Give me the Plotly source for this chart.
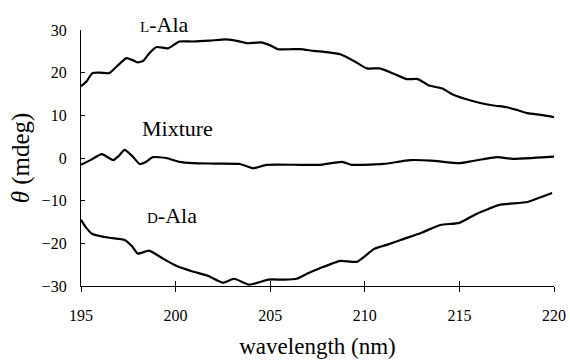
import plotly.graph_objects as go

l_wl = [195.0, 195.3, 195.6, 196.0, 196.5, 196.9, 197.4, 197.7, 198.0, 198.3, 198.6, 199.0, 199.6, 200.2,
        200.9, 201.8, 202.7, 203.3, 203.8, 204.5, 205.0, 205.4, 206.2, 206.6, 207.3, 208.0, 208.7, 209.4,
        210.1, 210.8, 211.5, 212.2, 212.8, 213.4, 214.1, 214.6, 215.2, 216.1, 216.8, 217.5, 218.0, 218.6,
        219.3, 220.0]
l_theta = [16.8, 18.0, 19.9, 20.0, 19.9, 21.5, 23.4, 23.0, 22.4, 22.8, 24.5, 26.0, 25.7, 27.3,
           27.3, 27.5, 27.8, 27.4, 26.9, 27.1, 26.4, 25.5, 25.5, 25.5, 25.1, 24.8, 24.3, 22.8,
           21.0, 21.0, 19.8, 18.5, 18.5, 17.0, 16.3, 15.0, 14.0, 12.9, 12.3, 11.9, 11.3, 10.5,
           10.1, 9.6]

m_wl = [195.0, 195.5, 196.1, 196.7, 197.0, 197.3, 197.7, 198.1, 198.4, 198.8, 199.5, 200.2, 200.9, 202.0,
        203.4, 204.1, 204.8, 206.6, 207.6, 208.8, 209.3, 209.9, 211.0, 212.4, 213.5, 215.0, 215.7, 217.0,
        217.8, 219.6, 220.0]
m_theta = [-1.6, -0.5, 0.9, -0.5, 0.5, 1.9, 0.5, -1.4, -1.0, 0.2, 0.0, -0.9, -1.2, -1.3,
           -1.4, -2.4, -1.6, -1.6, -1.6, -0.9, -1.6, -1.6, -1.4, -0.5, -0.6, -1.2, -0.7, 0.2,
           -0.2, 0.2, 0.3]

d_wl = [195.0, 195.3, 195.6, 196.5, 197.3, 197.7, 198.0, 198.6, 199.3, 200.0, 200.9, 201.7, 202.5, 203.1,
        203.9, 204.9, 205.7, 206.4, 207.0, 207.6, 208.7, 209.6, 210.5, 211.2, 211.9, 213.0, 214.0, 215.0,
        215.9, 216.5, 217.1, 218.6, 219.3, 219.9]
d_theta = [-14.5, -16.5, -17.8, -18.7, -19.2, -20.7, -22.4, -21.7, -23.5, -25.2, -26.6, -27.6, -29.2, -28.3,
           -29.7, -28.5, -28.5, -28.3, -27.0, -25.9, -24.1, -24.3, -21.3, -20.3, -19.2, -17.5, -15.7, -15.2,
           -13.1, -12.0, -11.0, -10.3, -9.2, -8.2]

x_ticks = [195, 200, 205, 210, 215, 220]
y_ticks = [-30, -20, -10, 0, 10, 20, 30]
y_range = [-30, 30]

labels = ["<span style='font-size:15px'>L</span>-Ala", "Mixture", "<span style='font-size:15px'>D</span>-Ala"]
label_x = [199.4, 200.1, 199.8]
label_y = [31.3, 6.8, -13.5]

FONT = "Liberation Serif, Times New Roman, serif"
fig = go.Figure()
for wl, th in [(l_wl, l_theta), (m_wl, m_theta), (d_wl, d_theta)]:
    fig.add_trace(go.Scatter(x=wl, y=th, mode="lines",
                             line=dict(color="black", width=2.2, shape="spline", smoothing=0.5),
                             showlegend=False, hoverinfo="skip"))
# invisible trace on overlay axis to give crossing x ticks
fig.add_trace(go.Scatter(x=[x_ticks[0], x_ticks[-1]], y=[0, 0], xaxis="x2", mode="lines",
                         line=dict(width=0), showlegend=False, hoverinfo="skip"))

for t, x, y in zip(labels, label_x, label_y):
    fig.add_annotation(x=x, xref="x", y=(y - y_range[0]) / (y_range[1] - y_range[0]), yref="y domain",
                       xanchor="center", yanchor="middle",
                       text=t, showarrow=False, font=dict(family=FONT, size=22, color="black"))

tick_font = dict(family=FONT, size=16, color="black")
fig.update_layout(
    width=570, height=361, margin=dict(l=81, r=16, t=30, b=75),
    plot_bgcolor="white", paper_bgcolor="white",
    font=dict(family=FONT, color="black"),
    xaxis=dict(range=[195, 220], tickvals=x_ticks, ticks="outside", ticklen=5, tickwidth=1.3,
               tickcolor="black", showline=True, linecolor="black", linewidth=1.3, showgrid=False,
               zeroline=False, tickfont=tick_font, ticklabelstandoff=10, automargin=False,
               title=dict(text="wavelength (nm)", font=dict(family=FONT, size=23), standoff=14)),
    xaxis2=dict(range=[195, 220], overlaying="x", tickvals=x_ticks, ticks="inside", ticklen=5,
                tickwidth=1.3, tickcolor="black", showticklabels=False, showgrid=False, zeroline=False,
                side="bottom", anchor="y", automargin=False),
    yaxis=dict(range=y_range, tickvals=y_ticks, ticks="inside", ticklen=4, tickwidth=1.3,
               tickcolor="black", showline=True, linecolor="black", linewidth=1.3, showgrid=False,
               zeroline=False, tickfont=tick_font, ticklabelstandoff=10, automargin=False,
               title=dict(text="<i>θ</i> (mdeg)", font=dict(family=FONT, size=25), standoff=4)),
)
fig.write_html("out.html")
